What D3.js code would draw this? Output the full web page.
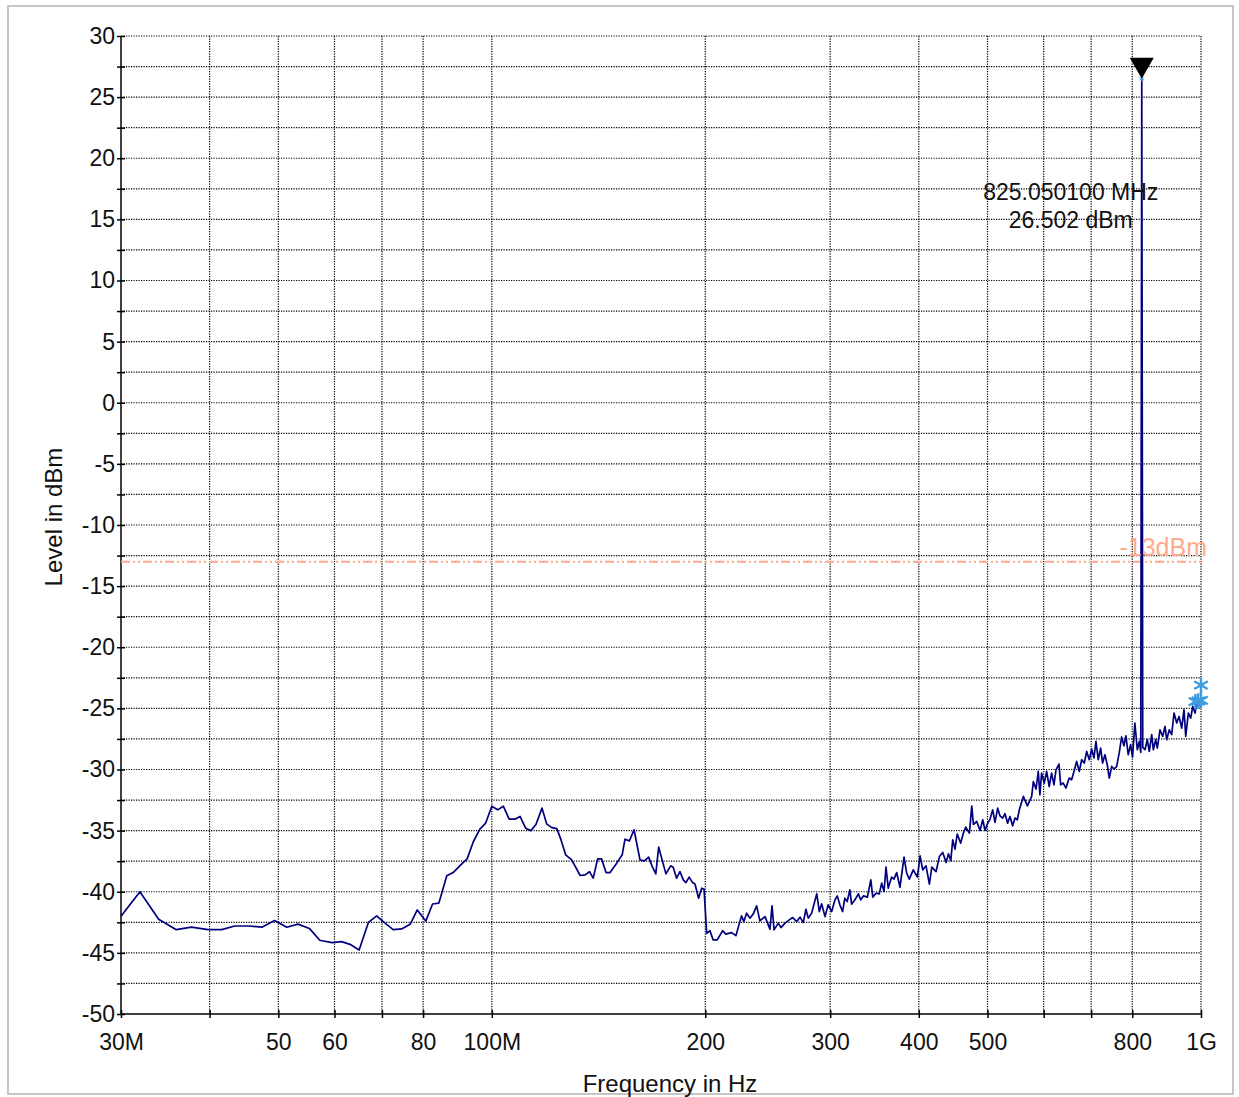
<html>
<head>
<meta charset="utf-8">
<script src="https://d3js.org/d3.v7.min.js"></script>
<style type="text/css">
  body { margin: 0; background-color: white; }
  text { font-family: "Liberation Sans", Arial, sans-serif; fill: #111; }
  .axis path, .axis line { stroke: black; stroke-width: 1.5; }
  .axis text { font-size: 23px; }
  .grid line { stroke: #000; stroke-width: 1.2; stroke-dasharray: 1.2,1.3; }
</style>
</head>
<body>
<div id="graph"></div>

<script>

  // spectrum trace, frequency in MHz and level in dBm
  var freqMHz = [30, 31.9, 33.9, 35.9, 37.7, 39.8, 41.6, 43.4, 45.4, 47.4, 49.4, 51.4, 53.3, 55.3, 57.2, 59.5,
    61.4, 63.1, 65.0, 67.0, 68.8, 70.7, 72.6, 74.6, 76.7, 78.5, 80.7, 82.5, 84.2, 86.4, 88.2, 90.7, 92.3, 94.2,
    96.2, 98.0, 100.0, 101.9, 103.8, 105.8, 107.8, 109.6, 111.6, 113.5, 115.4, 117.7, 119.5, 121.5, 123.5, 125.2,
    127.1, 129.6, 131.0, 133.2, 135.4, 137.3, 139.0, 141.0, 142.8, 144.9, 146.8, 150.0, 152.7, 154.1, 156.3,
    158.7, 161.8, 164.1, 166.4, 168.2, 170.3, 171.9, 176.0, 178.7, 180.2, 182.2, 184.2, 186.2, 187.8, 189.8,
    191.9, 193.4, 195.7, 197.7, 199.2, 200.9, 203.0, 205.2, 207.9, 211.6, 213.8, 217.8, 220.9, 225.0, 226.7,
    228.7, 231.2, 233.7, 236.3, 238.8, 242.8, 246.7, 248.4, 250.0, 253.5, 255.7, 259.1, 262.7, 265.6, 269.1,
    272.0, 274.9, 277.3, 279.4, 282.5, 287.2, 289.6, 291.8, 295.0, 298.1, 301.5, 304.7, 307.0, 309.6, 312.3,
    314.6, 317.0, 319.8, 321.6, 325.1, 328.7, 331.3, 334.2, 338.5, 342.3, 344.5, 348.1, 351.8, 354.6, 357.3,
    359.6, 362.2, 366.2, 369.0, 372.3, 376.3, 381.3, 384.6, 387.9, 392.9, 398.1, 401.7, 405.1, 409.5, 414.0,
    417.3, 423.1, 427.7, 432.4, 437.1, 440.4, 443.8, 446.6, 449.9, 453.2, 458.3, 462.3, 465.9, 471.4, 475.1,
    477.6, 482.8, 488.0, 492.3, 496.0, 499.8, 504.1, 508.5, 512.3, 516.8, 520.6, 525.2, 529.2, 533.8, 537.8,
    542.5, 546.7, 550.8, 554.4, 561.7, 569.1, 577.1, 580.2, 585.3, 589.6, 592.7, 596.0, 601.1, 605.8, 610.9,
    615.7, 620.4, 624.5, 630.6, 634.0, 639.3, 645.1, 651.9, 657.0, 664.1, 667.8, 673.6, 678.8, 684.6, 689.9,
    695.8, 701.1, 706.4, 711.0, 716.3, 721.9, 726.5, 732.1, 737.6, 742.4, 748.3, 753.9, 760.5, 767.0, 772.8,
    778.7, 783.7, 789.5, 795.7, 800.8, 806.8, 813.2, 818.6, 822.4, 825.05, 827.7, 833.8, 839.9, 845.4, 852.1,
    856.6, 863.3, 867.7, 875.3, 882.9, 889.7, 894.6, 902.1, 909.2, 916.2, 924.2, 931.1, 939.3, 946.4, 951.6,
    959.8, 967.2, 973.6, 981.0, 986.5, 991.7, 1000];

  var levelDbm = [-42.0, -40.0, -42.25, -43.1, -42.9, -43.1, -43.1, -42.8, -42.8, -42.9, -42.36, -42.9, -42.65, -43.0, -43.97, -44.16,
    -44.08, -44.3, -44.76, -42.5, -41.97, -42.57, -43.1, -43.04, -42.66, -41.49, -42.4, -41.0, -40.93, -38.7, -38.43, -37.72, -37.31, -35.89,
    -34.88, -34.39, -33.0, -33.3, -33.0, -34.06, -34.06, -33.84, -34.8, -35.0, -34.5, -33.16, -34.45, -34.75, -34.83, -35.76,
    -36.98, -37.4, -37.88, -38.67, -38.62, -38.35, -38.89, -37.31, -37.31, -38.43, -38.43, -37.66, -36.98, -35.7, -35.84,
    -34.93, -37.4, -37.47, -37.17, -37.88, -38.54, -36.35, -38.54, -37.88, -37.99, -38.89, -38.35, -39.03, -39.25, -38.8,
    -39.25, -39.36, -40.53, -39.71, -39.79, -43.4, -43.18, -43.94, -43.94, -43.18, -43.47, -43.34, -43.59, -41.97, -42.44,
    -41.75, -42.16, -41.81, -41.15, -42.38, -42.03, -43.06, -41.15, -43.12, -42.57, -42.93, -42.57, -42.30, -42.11, -42.44,
    -42.08, -42.52, -41.43, -42.16, -41.75, -40.17, -41.62, -40.99, -42.03, -41.07, -41.62, -40.66, -40.34, -41.07, -41.62,
    -40.53, -40.80, -39.85, -41.02, -40.66, -40.17, -40.66, -40.34, -40.44, -39.03, -40.44, -40.12, -40.17, -39.30, -39.99,
    -37.99, -39.71, -38.80, -38.97, -38.43, -39.63, -37.17, -38.48, -38.97, -38.21, -38.80, -37.06, -38.21, -37.88, -39.38,
    -37.99, -38.35, -37.12, -36.79, -37.61, -36.90, -37.45, -35.75, -36.51, -35.28, -36.02, -35.20, -34.71, -35.20, -33.00,
    -34.50, -34.25, -34.99, -34.11, -34.99, -34.45, -34.06, -33.30, -34.33, -33.16, -33.79, -33.97, -33.62, -34.39, -33.84,
    -34.61, -33.97, -34.11, -33.30, -32.20, -32.97, -32.20, -30.98, -31.60, -30.16, -32.07, -30.30, -31.11, -30.16, -31.39,
    -30.30, -31.25, -30.03, -29.56, -31.25, -31.11, -31.52, -30.70, -30.84, -29.88, -29.34, -30.16, -29.20, -29.47, -28.52,
    -29.20, -28.33, -29.06, -27.70, -29.20, -28.25, -29.47, -28.79, -29.61, -30.70, -29.75, -29.96, -29.75, -28.60, -27.34,
    -28.06, -27.24, -28.79, -27.97, -28.98, -26.20, -28.38, -27.70, -28.6, 26.502, -28.2, -28.38, -27.56, -28.52, -27.15,
    -28.38, -27.56, -28.25, -26.75, -27.30, -26.48, -27.56, -26.75, -27.15, -25.38, -26.20, -25.66, -26.61, -25.11, -27.30,
    -25.38, -25.79, -24.84, -25.38, -24.43, -24.84, -24.30];

  // axis ticks
  var xTicks = [30, 40, 50, 60, 70, 80, 100, 200, 300, 400, 500, 600, 700, 800, 1000];
  var xTickLabels = ['30M', '', '50', '60', '', '80', '100M', '200', '300', '400', '500', '', '', '800', '1G'];
  var yTicks = [30, 27.5, 25, 22.5, 20, 17.5, 15, 12.5, 10, 7.5, 5, 2.5, 0, -2.5, -5, -7.5, -10, -12.5, -15, -17.5,
    -20, -22.5, -25, -27.5, -30, -32.5, -35, -37.5, -40, -42.5, -45, -47.5, -50];
  var yTickLabels = ['30', '', '25', '', '20', '', '15', '', '10', '', '5', '', '0', '', '-5', '', '-10', '', '-15', '',
    '-20', '', '-25', '', '-30', '', '-35', '', '-40', '', '-45', '', '-50'];

  // limit line and marker
  var limitDbm = -13;
  var limitLabel = '-13dBm';
  var peakFreq = 825.05;
  var peakLevel = 26.502;
  var peakText = ['825.050100 MHz', '26.502 dBm'];
  var starFreq = [982, 991, 1000, 1000];
  var starLevel = [-24.45, -24.4, -24.35, -23.1];

  var margin = {top: 36, right: 38, bottom: 83, left: 121},
    width = 1239 - margin.left - margin.right,
    height = 1097 - margin.top - margin.bottom;

  var root = d3.select('#graph')
    .append('svg')
    .attr('width', 1239)
    .attr('height', 1097);

  // light grey frame round the whole chart
  root.append('rect')
    .attr('x', 8).attr('y', 6)
    .attr('width', 1225).attr('height', 1088)
    .attr('fill', 'none')
    .attr('stroke', '#c6c6c6')
    .attr('stroke-width', 2);

  var svg = root.append('g')
    .attr('transform', 'translate(' + margin.left + ',' + margin.top + ')');

  var x = d3.scaleLog()
    .domain([30, 1000])
    .range([0, width]);

  var y = d3.scaleLinear()
    .domain([-50, 30])
    .range([height, 0]);

  // dotted grid
  svg.append('g')
    .attr('class', 'grid')
    .selectAll('line.v')
    .data(xTicks.slice(1))
    .enter()
    .append('line')
    .attr('x1', function (d) { return x(d); })
    .attr('x2', function (d) { return x(d); })
    .attr('y1', 0)
    .attr('y2', height);

  svg.append('g')
    .attr('class', 'grid')
    .selectAll('line.h')
    .data(yTicks.slice(0, yTicks.length - 1))
    .enter()
    .append('line')
    .attr('x1', 0)
    .attr('x2', width)
    .attr('y1', function (d) { return y(d); })
    .attr('y2', function (d) { return y(d); });

  // X axis
  var xAxis = svg.append('g')
    .attr('class', 'axis')
    .attr('transform', 'translate(0,' + height + ')')
    .call(d3.axisBottom(x)
      .tickValues(xTicks)
      .tickSizeOuter(0)
      .tickSize(4)
      .tickFormat(function (d, i) { return xTickLabels[i]; }));
  xAxis.selectAll('.tick line').attr('y1', -4).attr('y2', 4);
  xAxis.selectAll('.tick text').attr('y', 20).attr('dy', '0.71em').style('fill', '#111');

  // Y axis
  var yAxis = svg.append('g')
    .attr('class', 'axis')
    .call(d3.axisLeft(y)
      .tickValues(yTicks)
      .tickSizeOuter(0)
      .tickSize(4)
      .tickFormat(function (d, i) { return yTickLabels[i]; }));
  yAxis.selectAll('.tick line').attr('x1', 4).attr('x2', -4);
  yAxis.selectAll('.tick text').attr('x', -6).style('fill', '#111');
  yAxis.select('.domain').attr('d', 'M0,0V' + height);
  xAxis.select('.domain').attr('d', 'M0,0H' + width);

  // axis titles
  root.append('text')
    .attr('transform', 'translate(62,' + (margin.top + height / 2 - 8) + ') rotate(-90)')
    .attr('text-anchor', 'middle')
    .style('font-size', '24px')
    .text('Level in dBm');

  root.append('text')
    .attr('x', margin.left + width / 2 + 9)
    .attr('y', 1092)
    .attr('text-anchor', 'middle')
    .style('font-size', '24px')
    .text('Frequency in Hz');

  // limit line
  svg.append('line')
    .attr('x1', 0)
    .attr('x2', width)
    .attr('y1', y(limitDbm))
    .attr('y2', y(limitDbm))
    .attr('stroke', '#ffa985')
    .attr('stroke-width', 2)
    .attr('stroke-dasharray', '9,3,2,3,2,3');

  // trace
  var trace = freqMHz.map(function (f, i) { return [f, levelDbm[i]]; });
  svg.append('path')
    .datum(trace)
    .attr('fill', 'none')
    .attr('stroke', '#00007f')
    .attr('stroke-width', 1.7)
    .attr('stroke-linejoin', 'round')
    .attr('d', d3.line()
      .x(function (d) { return x(d[0]); })
      .y(function (d) { return y(d[1]); }));

  svg.append('text')
    .attr('x', width + 6)
    .attr('y', y(limitDbm) - 6)
    .attr('text-anchor', 'end')
    .style('font-size', '25px')
    .style('fill', '#ffab8a')
    .text(limitLabel);

  // asterisk markers at the end of the sweep
  svg.append('g')
    .selectAll('path')
    .data(starFreq)
    .enter()
    .append('path')
    .attr('transform', function (d, i) {
      return 'translate(' + x(d) + ',' + y(starLevel[i]) + ')';
    })
    .attr('d', d3.symbol().type(d3.symbolAsterisk).size(170))
    .attr('stroke', '#3d9be0')
    .attr('stroke-width', 2.4);

  // peak marker
  var px = x(peakFreq), py = y(peakLevel);
  svg.append('path')
    .attr('transform', 'translate(' + px + ',' + py + ')')
    .attr('d', d3.symbol().type(d3.symbolAsterisk).size(20))
    .attr('stroke', '#4aa3e8')
    .attr('stroke-width', 1);

  svg.append('path')
    .attr('d', 'M' + px + ',' + py + 'L' + (px - 12) + ',' + (py - 21) + 'L' + (px + 12) + ',' + (py - 21) + 'Z')
    .attr('fill', 'black');

  svg.append('g')
    .selectAll('text')
    .data(peakText)
    .enter()
    .append('text')
    .attr('x', px - 71)
    .attr('y', function (d, i) { return py + 121 + i * 28; })
    .attr('text-anchor', 'middle')
    .style('font-size', '23px')
    .text(function (d) { return d; });

</script>
</body>
</html>
